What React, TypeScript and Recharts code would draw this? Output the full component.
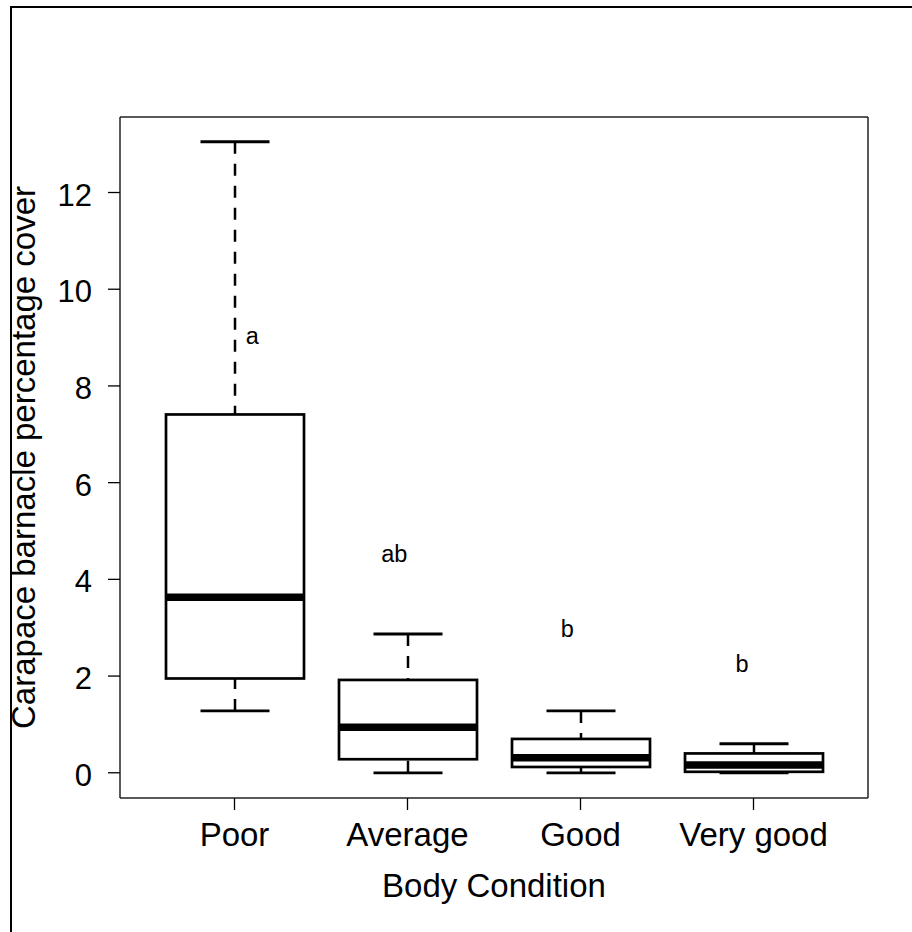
import React from 'react';
import { ComposedChart, Bar, Line, XAxis, YAxis } from 'recharts';

const categories = ['Poor', 'Average', 'Good', 'Very good'];
const whiskerLow = [1.28, 0, 0, 0];
const lowerQuartile = [1.95, 0.28, 0.12, 0.02];
const medians = [3.63, 0.94, 0.31, 0.16];
const upperQuartile = [7.41, 1.92, 0.7, 0.4];
const whiskerHigh = [13.05, 2.87, 1.28, 0.6];

// significance letters: text, x offset in category units, y value
const letters = ['a', 'ab', 'b', 'b'];
const letterOffset = [0.1, -0.08, -0.08, -0.07];
const letterValue = [9, 4.5, 2.94, 2.21];

const yTicks = [0, 2, 4, 6, 8, 10, 12];
const yDomain = [-0.5216, 13.5616];

const rows = categories.map((name, i) => ({
  name,
  min: whiskerLow[i],
  q1: lowerQuartile[i],
  median: medians[i],
  q3: upperQuartile[i],
  max: whiskerHigh[i],
  letter: letters[i],
  letterDx: letterOffset[i],
  letterY: letterValue[i],
}));

const FONT = '"Liberation Sans", Arial, sans-serif';

const BoxShape = (props: any) => {
  const { x, y, width, height, payload } = props;
  const { min, q1, median, q3, max, letter, letterDx, letterY } = payload;
  const top = Math.min(y, y + height);
  const bottom = Math.max(y, y + height);
  // linear map inside the bar's own pixel span (top = max, bottom = min)
  const toY = (v: number) => top + ((bottom - top) * (max - v)) / (max - min);
  const cx = x + width / 2;
  const cap = width / 4;
  const band = width / 0.8;

  return (
    <g>
      <line x1={cx} x2={cx} y1={toY(max)} y2={toY(q3)} stroke="#000" strokeWidth={2.5} strokeDasharray="12 10" />
      <line x1={cx} x2={cx} y1={toY(min)} y2={toY(q1)} stroke="#000" strokeWidth={2.5} strokeDasharray="12 10" />
      <line x1={cx - cap} x2={cx + cap} y1={toY(max)} y2={toY(max)} stroke="#000" strokeWidth={2.8} />
      <line x1={cx - cap} x2={cx + cap} y1={toY(min)} y2={toY(min)} stroke="#000" strokeWidth={2.8} />
      <rect x={x} y={toY(q3)} width={width} height={toY(q1) - toY(q3)} fill="#fff" stroke="#000" strokeWidth={2.7} />
      <line x1={x} x2={x + width} y1={toY(median)} y2={toY(median)} stroke="#000" strokeWidth={7.5} />
      <text
        x={cx + letterDx * band}
        y={toY(letterY) + 6.5}
        textAnchor="middle"
        fontSize={23.5}
        fontFamily={FONT}
        fill="#000"
      >
        {letter}
      </text>
    </g>
  );
};

export default function App() {
  return (
    <div style={{ position: 'absolute', left: 0, top: 0, width: 912, height: 932, background: '#fff' }}>
      <div
        style={{
          position: 'absolute',
          left: 10,
          top: 6,
          width: 902,
          height: 926,
          boxSizing: 'border-box',
          borderLeft: '2px solid #000',
          borderTop: '2px solid #000',
        }}
      />
      <ComposedChart
        width={912}
        height={932}
        data={rows}
        margin={{ top: 116, right: 43, bottom: 0, left: 0 }}
        style={{ position: 'absolute', left: 0, top: 0, fontFamily: FONT }}
      >
        <XAxis
          dataKey="name"
          type="category"
          padding={{ left: 28, right: 28 }}
          height={134}
          tickSize={12}
          tickMargin={12.5}
          tick={{ fontSize: 33, fill: '#000', fontFamily: FONT }}
          tickLine={{ stroke: '#000', strokeWidth: 1.3 }}
          axisLine={{ stroke: '#222', strokeWidth: 1.5 }}
          label={{ value: 'Body Condition', position: 'insideBottom', offset: 35, fontSize: 33, fill: '#000', fontFamily: FONT }}
        />
        <XAxis
          xAxisId="top"
          dataKey="name"
          orientation="top"
          padding={{ left: 28, right: 28 }}
          height={1}
          tick={false}
          tickLine={false}
          axisLine={{ stroke: '#222', strokeWidth: 1.5 }}
        />
        <YAxis
          type="number"
          domain={yDomain}
          ticks={yTicks}
          width={120}
          tickSize={12}
          tickMargin={16}
          tick={{ fontSize: 31, fill: '#000', fontFamily: FONT, dy: 2 }}
          tickLine={{ stroke: '#000', strokeWidth: 1.3 }}
          axisLine={{ stroke: '#222', strokeWidth: 1.5 }}
          allowDataOverflow
          label={{
            value: 'Carapace barnacle percentage cover',
            angle: -90,
            position: 'insideLeft',
            offset: 23,
            fontSize: 33,
            fill: '#000',
            fontFamily: FONT,
            style: { textAnchor: 'middle' },
          }}
        />
        <YAxis
          yAxisId="right"
          orientation="right"
          type="number"
          domain={yDomain}
          width={1}
          tick={false}
          tickLine={false}
          axisLine={{ stroke: '#222', strokeWidth: 1.5 }}
          allowDataOverflow
        />
        <Bar
          dataKey={(d: any) => [d.min, d.max]}
          barSize={138}
          shape={BoxShape}
          isAnimationActive={false}
        />
        {/* invisible series so the top and right frame axes are drawn */}
        <Line
          xAxisId="top"
          yAxisId="right"
          dataKey="median"
          stroke="none"
          dot={false}
          activeDot={false}
          legendType="none"
          isAnimationActive={false}
        />
      </ComposedChart>
    </div>
  );
}
